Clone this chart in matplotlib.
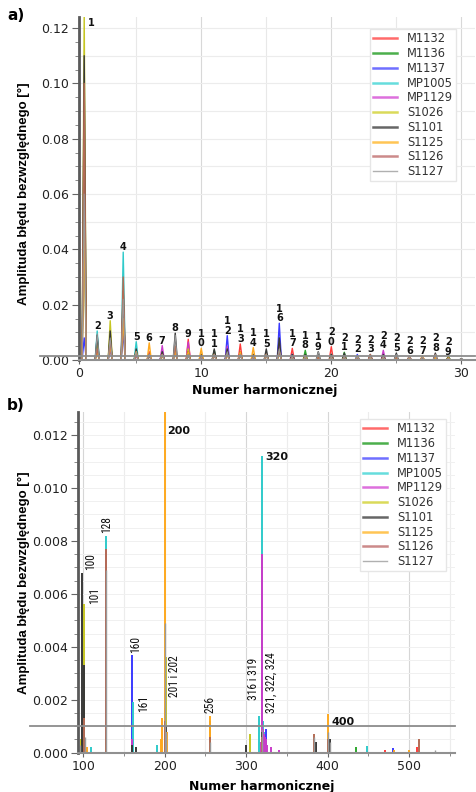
import numpy as np
import matplotlib
matplotlib.use("Agg")
import matplotlib.pyplot as plt
from matplotlib import font_manager
from matplotlib.ticker import MultipleLocator, FormatStrFormatter, FixedLocator
from matplotlib.lines import Line2D

# ---------------- data ----------------
series_names = ['M1132', 'M1136', 'M1137', 'MP1005', 'MP1129',
                'S1026', 'S1101', 'S1125', 'S1126', 'S1127']
series_colors = ['#ff3b3b', '#2ea82e', '#3a3aff', '#2fcaca', '#c93cc9',
                 '#c6c622', '#383838', '#ffa91f', '#b46c55', '#9a9a9a']
legend_colors = ['#ff6a6a', '#4caf4c', '#6f6fff', '#66dddd', '#dd70dd',
                 '#dada5a', '#666666', '#ffc555', '#cc8a8a', '#b0b0b0']

# panel a) harmonics 1..30
harmonics_a = list(range(1, 31))
a_M1132 = [0.060, 0.004, 0.006, 0.020, 0.002, 0.003, 0.002, 0.004, 0.0075, 0.002,
           0.002, 0.004, 0.0058, 0.002, 0.002, 0.006, 0.0042, 0.001, 0.0015, 0.0048,
           0.001, 0.001, 0.0015, 0.001, 0.001, 0.0008, 0.0008, 0.0015, 0.0005, 0.0002]
a_M1136 = [0.050, 0.003, 0.005, 0.015, 0.003, 0.002, 0.002, 0.003, 0.002, 0.002,
           0.0035, 0.003, 0.002, 0.002, 0.002, 0.004, 0.002, 0.0035, 0.0015, 0.002,
           0.0028, 0.001, 0.001, 0.001, 0.001, 0.0008, 0.0005, 0.001, 0.0012, 0.0002]
a_M1137 = [0.008, 0.006, 0.004, 0.010, 0.002, 0.002, 0.003, 0.003, 0.002, 0.001,
           0.002, 0.0088, 0.002, 0.001, 0.002, 0.0133, 0.002, 0.001, 0.001, 0.002,
           0.001, 0.002, 0.001, 0.001, 0.001, 0.0005, 0.0005, 0.001, 0.0005, 0.0002]
a_MP1005 = [0.090, 0.0105, 0.008, 0.039, 0.0066, 0.002, 0.002, 0.004, 0.002, 0.001,
            0.002, 0.004, 0.002, 0.001, 0.002, 0.005, 0.001, 0.001, 0.001, 0.002,
            0.001, 0.0015, 0.001, 0.001, 0.001, 0.0005, 0.0005, 0.001, 0.0005, 0.0002]
a_MP1129 = [0.070, 0.005, 0.006, 0.020, 0.002, 0.002, 0.0052, 0.004, 0.0065, 0.001,
            0.002, 0.005, 0.002, 0.001, 0.002, 0.006, 0.002, 0.001, 0.001, 0.002,
            0.001, 0.001, 0.001, 0.0035, 0.001, 0.0005, 0.0005, 0.001, 0.0005, 0.0002]
a_S1026 = [0.125, 0.006, 0.0142, 0.020, 0.003, 0.002, 0.002, 0.004, 0.004, 0.002,
           0.002, 0.003, 0.002, 0.002, 0.002, 0.004, 0.001, 0.001, 0.001, 0.002,
           0.001, 0.001, 0.001, 0.001, 0.001, 0.0005, 0.0005, 0.001, 0.0005, 0.0002]
a_S1101 = [0.110, 0.009, 0.0105, 0.025, 0.004, 0.002, 0.003, 0.0097, 0.003, 0.002,
           0.004, 0.004, 0.003, 0.002, 0.004, 0.008, 0.002, 0.002, 0.003, 0.002,
           0.0025, 0.001, 0.002, 0.002, 0.0025, 0.001, 0.001, 0.0025, 0.001, 0.0005]
a_S1125 = [0.050, 0.003, 0.005, 0.015, 0.003, 0.0062, 0.002, 0.003, 0.003, 0.0042,
           0.002, 0.002, 0.003, 0.0045, 0.002, 0.003, 0.001, 0.0015, 0.001, 0.001,
           0.001, 0.0012, 0.001, 0.001, 0.001, 0.0008, 0.0015, 0.001, 0.0008, 0.0002]
a_S1126 = [0.100, 0.004, 0.007, 0.030, 0.002, 0.002, 0.002, 0.005, 0.002, 0.001,
           0.002, 0.002, 0.002, 0.001, 0.002, 0.003, 0.001, 0.001, 0.001, 0.001,
           0.001, 0.001, 0.002, 0.001, 0.001, 0.0015, 0.001, 0.002, 0.0005, 0.0002]
a_S1127 = [0.060, 0.0095, 0.008, 0.022, 0.003, 0.002, 0.002, 0.009, 0.002, 0.001,
           0.002, 0.003, 0.002, 0.001, 0.002, 0.004, 0.001, 0.001, 0.003, 0.001,
           0.001, 0.001, 0.001, 0.001, 0.002, 0.001, 0.001, 0.002, 0.0005, 0.0005]
a_labelled = list(range(1, 30))
a_threshold = 0.0015

# panel b) selected harmonics (harmonic number, amplitude)
b_M1132_h = [101, 105, 128, 160, 200, 256, 320, 322, 400, 470, 510]
b_M1132_v = [0.0027, 0.0001, 0.0007, 0.0002, 0.0008, 0.0003, 0.0008, 0.0004, 0.0003, 0.0001, 0.0002]
b_M1136_h = [100, 128, 200, 320, 321, 435]
b_M1136_v = [0.0005, 0.0005, 0.0006, 0.0006, 0.0004, 0.0002]
b_M1137_h = [100, 128, 160, 200, 319, 320, 324, 400, 480, 482]
b_M1137_v = [0.0004, 0.0006, 0.0037, 0.0007, 0.0011, 0.0027, 0.0009, 0.0003, 0.00018, 0.00012]
b_MP1005_h = [100, 110, 128, 161, 190, 200, 256, 316, 320, 321, 322, 448, 500]
b_MP1005_v = [0.0003, 0.0002, 0.0082, 0.0019, 0.0003, 0.0009, 0.0002, 0.0014, 0.0112, 0.0012, 0.0008, 0.00025, 0.0001]
b_MP1129_h = [128, 160, 200, 318, 320, 321, 322, 323, 324, 326, 330, 340]
b_MP1129_v = [0.0077, 0.0005, 0.0005, 0.0004, 0.0075, 0.0009, 0.0007, 0.0006, 0.0005, 0.0003, 0.0002, 0.0001]
b_S1026_h = [97, 101, 128, 201, 202, 256, 305, 320, 400]
b_S1026_v = [0.0005, 0.0056, 0.0004, 0.0036, 0.0025, 0.0002, 0.0007, 0.0005, 0.0004]
b_S1101_h = [99, 101, 128, 160, 165, 200, 202, 256, 300, 320, 386, 403]
b_S1101_v = [0.0068, 0.0033, 0.0006, 0.0003, 0.0002, 0.0017, 0.0010, 0.0012, 0.0003, 0.0008, 0.0004, 0.0005]
b_S1125_h = [105, 128, 195, 197, 200, 203, 256, 320, 400, 482, 500]
b_S1125_v = [0.0002, 0.0003, 0.0005, 0.0013, 0.0130, 0.0008, 0.0014, 0.0004, 0.00145, 0.0001, 0.00012]
b_S1126_h = [101, 128, 200, 256, 320, 384, 400, 512]
b_S1126_v = [0.0013, 0.0077, 0.0012, 0.0006, 0.0006, 0.0007, 0.0005, 0.0005]
b_S1127_h = [96, 102, 128, 200, 201, 256, 320, 384, 400, 403, 532]
b_S1127_v = [0.0003, 0.0006, 0.0069, 0.0049, 0.0008, 0.0004, 0.0009, 0.0006, 0.0008, 0.0004, 0.0001]
b_threshold = 0.001

b_rot_labels = ['100', '101', '128', '160', '161', '201 i 202', '256', '316 i 319', '321, 322, 324']
b_rot_anchor = [99, 101, 128, 160, 161, 201, 256, 316, 321]
b_bold_labels = ['200', '320', '400']
b_bold_anchor = [200, 320, 400]

# ---------------- narrow font for rotated labels ----------------
_fonts = font_manager.fontManager.ttflist
_names = {f.name for f in _fonts}
narrow_props = None
for cand in ['Liberation Sans Narrow', 'Roboto Condensed', 'Open Sans Condensed',
             'Noto Sans Condensed']:
    if cand in _names:
        narrow_props = dict(family=cand, fontsize=8.3)
        break
if narrow_props is None:
    cond = [f for f in _fonts if str(f.stretch) in ('condensed', 'semi-condensed', '300', '400')
            and f.weight in (400, 'normal', 'regular') and f.style == 'normal'
            and f.name in ('DejaVu Sans', 'Noto Sans', 'Open Sans', 'Roboto')]
    if cond:
        narrow_props = dict(fontproperties=font_manager.FontProperties(fname=cond[0].fname, size=8.0))
    else:
        narrow_props = dict(family='Liberation Sans', fontsize=7.0)

# ---------------- figure ----------------
W, H = 476, 792
fig = plt.figure(figsize=(W / 100, H / 100), dpi=100)


def px_axes(l, t, r, b):
    return fig.add_axes([l / W, 1 - b / H, (r - l) / W, (b - t) / H])


axA = px_axes(79, 17, 475, 360)
axB = px_axes(78, 412, 455, 752.7)

label_font = dict(family=['Liberation Sans', 'DejaVu Sans'], weight='bold', size=9.5)
xlab_font = dict(family='DejaVu Sans', weight='bold', size=9)


def style_axes(ax, fmt, ymajor, yminor):
    for s in ('top', 'right'):
        ax.spines[s].set_visible(False)
    ax.spines['left'].set_linewidth(2.0)
    ax.spines['left'].set_color('#5a5a5a')
    ax.spines['bottom'].set_linewidth(1.5)
    ax.spines['bottom'].set_color('#909090')
    ax.yaxis.set_major_locator(MultipleLocator(ymajor))
    ax.yaxis.set_minor_locator(MultipleLocator(yminor))
    ax.yaxis.set_major_formatter(FormatStrFormatter(fmt))
    ax.tick_params(axis='both', which='major', direction='out', length=5, width=0.8,
                   color='#666666', labelsize=9, labelcolor='#222222', pad=2)
    ax.tick_params(axis='both', which='minor', direction='out', length=3, width=0.6,
                   color='#777777')
    ax.tick_params(axis='x', which='major', length=3)
    ax.tick_params(axis='x', which='minor', length=2)


# ---------- panel a ----------
a_series = [a_M1132, a_M1136, a_M1137, a_MP1005, a_MP1129,
            a_S1026, a_S1101, a_S1125, a_S1126, a_S1127]
a_xmin, a_xmax, a_ymax = 0.6, 31.05, 0.124
axA.set_xlim(a_xmin, a_xmax)
axA.set_ylim(0, a_ymax)
style_axes(axA, '%.2f', 0.02, 0.005)
axA.xaxis.set_major_locator(FixedLocator([a_xmin, 10, 20, 30]))
axA.set_xticklabels(['0', '10', '20', '30'])
axA.xaxis.set_minor_locator(MultipleLocator(5))

for g in np.arange(5, 31, 5):
    axA.axvline(g, color='#d8d8d8' if g % 10 == 0 else '#e8e8e8', lw=0.8, zorder=0)
for g in np.arange(0.01, 0.125, 0.01):
    axA.axhline(g, color='#ececec', lw=0.8, zorder=0)

half_w = 0.16
for vals, col, name in zip(a_series, series_colors, series_names):
    xs = np.ravel([[h - half_w, h, h + half_w] for h in harmonics_a])
    ys = np.ravel([[0.0, v, 0.0] for v in vals])
    axA.plot(xs, ys, color=col, lw=0.7 if name == 'S1127' else 1.0, zorder=2)

axA.plot([-0.098, 1.0], [a_threshold, a_threshold], transform=axA.get_yaxis_transform(),
         clip_on=False, color='#8c8c8c', lw=1.3, zorder=3)

a_peak = np.max(np.array(a_series), axis=0)
for h in a_labelled:
    top = min(a_peak[h - 1], a_ymax)
    s = str(h)
    if h == 1:
        axA.annotate(s, (h, top), xytext=(4, -6), textcoords='offset pixels',
                     ha='left', va='center', fontsize=7, fontweight='bold',
                     family='DejaVu Sans', color='#111111')
    else:
        txt = '\n'.join(s)
        axA.annotate(txt, (h, top), xytext=(0, 0), textcoords='offset pixels',
                     ha='center', va='bottom', fontsize=7, fontweight='bold',
                     family='DejaVu Sans', color='#111111', linespacing=0.95)

axA.set_ylabel('Amplituda błędu bezwzględnego [°]', fontdict=label_font)
axA.yaxis.set_label_coords(-0.124, 0.484)
axA.set_xlabel('Numer harmonicznej', fontdict=xlab_font)
axA.xaxis.set_label_coords(0.47, -0.07)

handles = [Line2D([0], [0], color=c, lw=1.0 if n == 'S1127' else 1.8)
           for c, n in zip(legend_colors, series_names)]
legA = fig.legend(handles, series_names, loc='upper left',
                  bbox_to_anchor=(369.5 / W, 1 - 29 / H), borderaxespad=0,
                  borderpad=0.3, handlelength=2.1, handletextpad=0.85, labelspacing=0.15,
                  prop=dict(family='DejaVu Sans', size=8.3), frameon=True, fancybox=False,
                  edgecolor='#e6e6e6', facecolor='white', framealpha=1)
for t in legA.get_texts():
    t.set_color('#333333')

# ---------- panel b ----------
b_h = [b_M1132_h, b_M1136_h, b_M1137_h, b_MP1005_h, b_MP1129_h,
       b_S1026_h, b_S1101_h, b_S1125_h, b_S1126_h, b_S1127_h]
b_v = [b_M1132_v, b_M1136_v, b_M1137_v, b_MP1005_v, b_MP1129_v,
       b_S1026_v, b_S1101_v, b_S1125_v, b_S1126_v, b_S1127_v]
b_ymax = 0.01287
axB.set_xlim(93.5, 556.6)
axB.set_ylim(0, b_ymax)
style_axes(axB, '%.3f', 0.002, 0.0005)
axB.xaxis.set_major_locator(MultipleLocator(100))
axB.xaxis.set_minor_locator(MultipleLocator(50))
axB.grid(which='major', axis='x', color='#d6d6d6', lw=0.8, zorder=0)
axB.grid(which='minor', axis='x', color='#ececec', lw=0.8, zorder=0)
axB.grid(which='both', axis='y', color='#f0f0f0', lw=0.7, zorder=0)
axB.set_axisbelow(True)

for hs, vs, col, name in zip(b_h, b_v, series_colors, series_names):
    axB.vlines(hs, 0, vs, colors=col, lw=1.0 if name == 'S1127' else 1.4, zorder=2)

axB.plot([-0.127, 1.0], [b_threshold, b_threshold], transform=axB.get_yaxis_transform(),
         clip_on=False, color='#8c8c8c', lw=1.3, zorder=3)


def peak_at(h):
    best = 0.0
    for hs, vs in zip(b_h, b_v):
        for hh, vv in zip(hs, vs):
            if hh == h:
                best = max(best, vv)
    return min(best, b_ymax)


rot_layout = [  # (dx px, dy px, ha, va)
    (1.5, 2.5, 'left', 'bottom'),
    (4, 0, 'left', 'bottom'),
    (0, 2.5, 'center', 'bottom'),
    (3, 2, 'center', 'bottom'),
    (10.5, -10, 'center', 'bottom'),
    (9, 2.4, 'center', 'top'),
    (0, 2.6, 'center', 'bottom'),
    (-6, 15.6, 'center', 'bottom'),
    (7.6, 8, 'center', 'bottom'),
]
for txt, h, (dx, dy, ha, va) in zip(b_rot_labels, b_rot_anchor, rot_layout):
    axB.annotate(txt, (h, peak_at(h)), xytext=(dx, dy), textcoords='offset pixels',
                 rotation=90, ha=ha, va=va, color='#111111', **narrow_props)

bold_layout = [(2, -19), (2.5, -1), (4, -8)]
for txt, h, (dx, dy) in zip(b_bold_labels, b_bold_anchor, bold_layout):
    axB.annotate(txt, (h, peak_at(h)), xytext=(dx, dy), textcoords='offset pixels',
                 ha='left', va='center', fontsize=8, fontweight='bold',
                 family='DejaVu Sans', color='#111111')

axB.set_ylabel('Amplituda błędu bezwzględnego [°]', fontdict=label_font)
axB.yaxis.set_label_coords(-0.127, 0.498)
axB.set_xlabel('Numer harmonicznej', fontdict=xlab_font)
axB.xaxis.set_label_coords(0.488, -0.08)

legB = fig.legend(handles, series_names, loc='upper left',
                  bbox_to_anchor=(359.5 / W, 1 - 419 / H), borderaxespad=0,
                  borderpad=0.3, handlelength=2.1, handletextpad=0.85, labelspacing=0.15,
                  prop=dict(family='DejaVu Sans', size=8.3), frameon=True, fancybox=False,
                  edgecolor='#e6e6e6', facecolor='white', framealpha=1)
for t in legB.get_texts():
    t.set_color('#333333')

fig.text(7 / W, 1 - 15 / H, 'a)', ha='left', va='center', fontsize=11,
         fontweight='bold', family='DejaVu Sans')
fig.text(7 / W, 1 - 406 / H, 'b)', ha='left', va='center', fontsize=11,
         fontweight='bold', family='DejaVu Sans')

fig.savefig('out.png', dpi=100)
